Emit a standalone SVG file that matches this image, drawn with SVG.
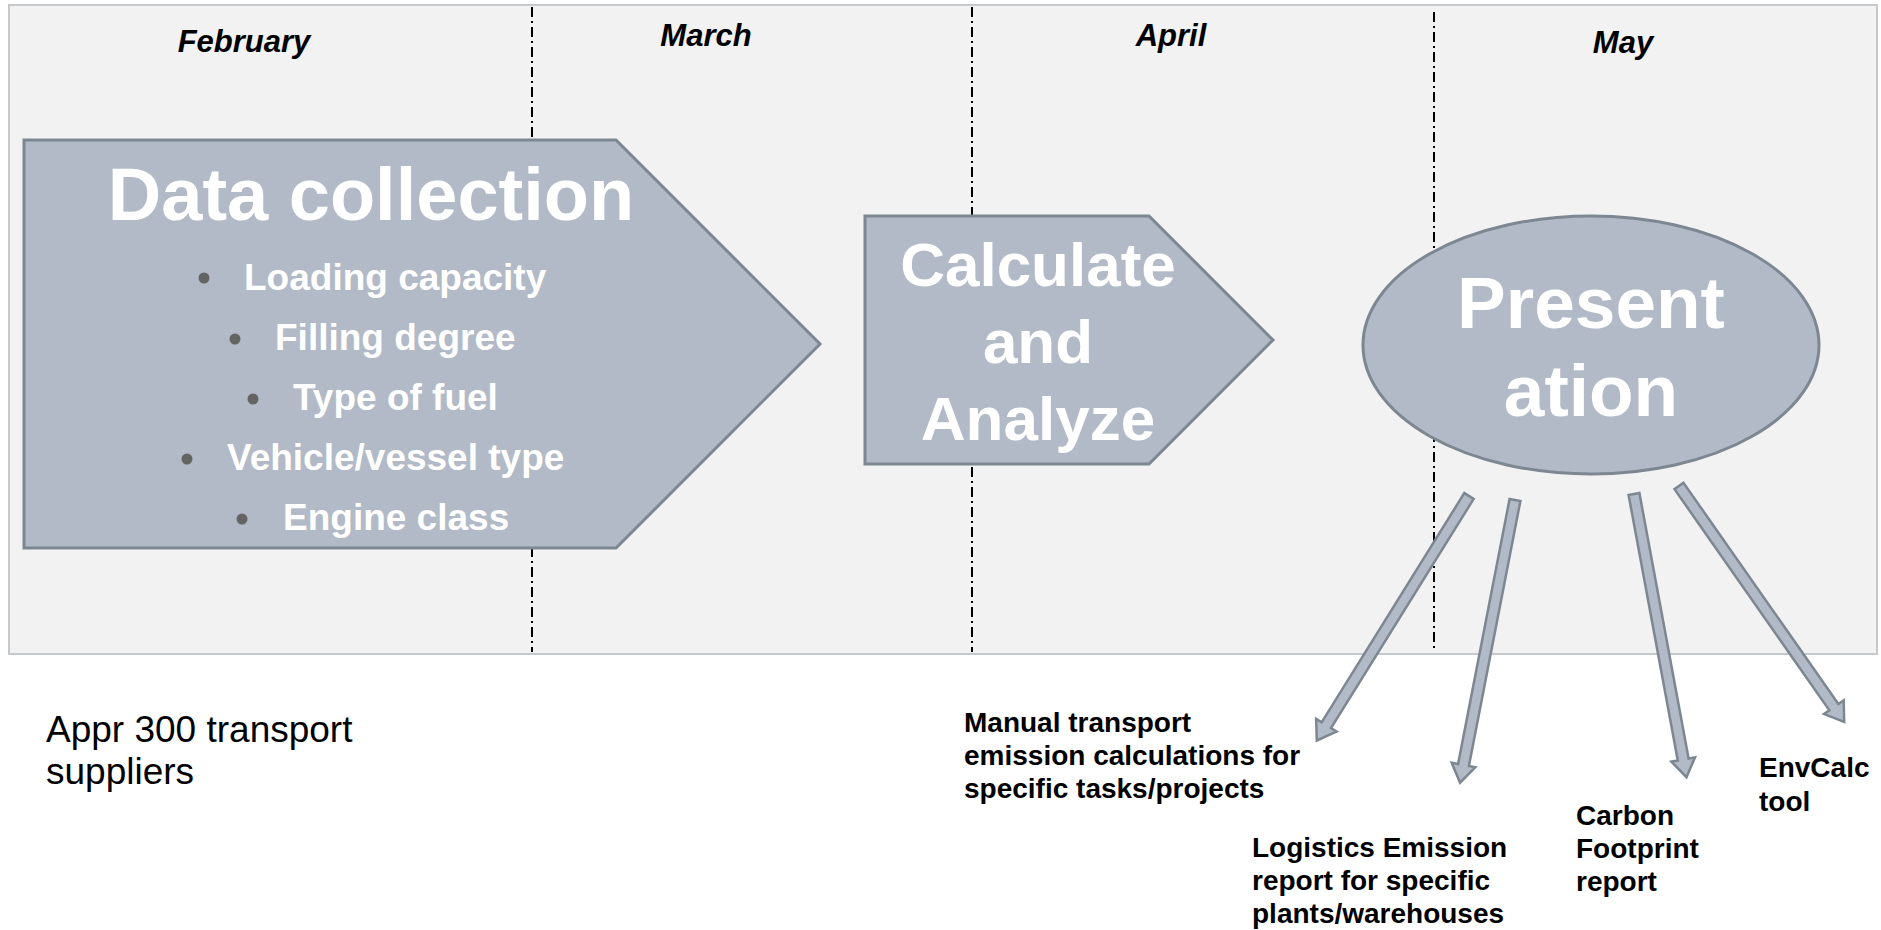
<svg xmlns="http://www.w3.org/2000/svg" width="1881" height="930" viewBox="0 0 1881 930">
  <style>
    .month { font-family: "Liberation Sans", Arial, sans-serif; font-weight: bold; font-style: italic; font-size: 31px; fill: #000; text-anchor: middle; }
    .shape { fill: #b1bac6; stroke: #7d8792; stroke-width: 3; }
    .big { font-family: "Liberation Sans", Arial, sans-serif; font-weight: bold; fill: #fff; text-anchor: middle; }
    .item { font-family: "Liberation Sans", Arial, sans-serif; font-weight: bold; font-size: 37px; fill: #fff; }
    .dot { fill: #646464; }
    .out { font-family: "Liberation Sans", Arial, sans-serif; font-weight: bold; font-size: 28px; fill: #000; }
    .note { font-family: "Liberation Sans", Arial, sans-serif; font-size: 37px; fill: #000; }
    .divider { stroke: #000; stroke-width: 2; stroke-dasharray: 10 4 2 4; fill: none; }
    .flow { fill: #b1bac6; stroke: #7d8792; stroke-width: 2.5; stroke-linejoin: miter; }
  </style>
  <defs>
    <!-- thin block arrow pointing along +x, tail at origin -->
    <polygon id="blockArrow" points="0,-5.5 270,-5.5 270,-12 288,0 270,12 270,5.5 0,5.5"/>
  </defs>

  <rect width="1881" height="930" fill="#fff"/>

  <!-- timeline panel -->
  <g id="timeline">
    <rect x="9" y="5" width="1868" height="649" fill="#f2f2f2" stroke="#c6c9cc" stroke-width="2"/>
    <line class="divider" x1="532" y1="7" x2="532" y2="652"/>
    <line class="divider" x1="972" y1="7" x2="972" y2="652"/>
    <line class="divider" x1="1434" y1="12" x2="1434" y2="650"/>
    <text class="month" x="244" y="52">February</text>
    <text class="month" x="706" y="46">March</text>
    <text class="month" x="1171" y="46">April</text>
    <text class="month" x="1623" y="53">May</text>
  </g>

  <!-- step 1 -->
  <g id="data-collection">
    <polygon class="shape" points="24,140 616,140 820,344 616,548 24,548"/>
    <text class="big" x="371" y="220" font-size="74">Data collection</text>
    <circle class="dot" cx="204" cy="278" r="5.5"/>
    <text class="item" x="244" y="290">Loading capacity</text>
    <circle class="dot" cx="235" cy="339" r="5.5"/>
    <text class="item" x="275" y="350">Filling degree</text>
    <circle class="dot" cx="253" cy="399" r="5.5"/>
    <text class="item" x="293" y="410">Type of fuel</text>
    <circle class="dot" cx="187" cy="459" r="5.5"/>
    <text class="item" x="227" y="470">Vehicle/vessel type</text>
    <circle class="dot" cx="242" cy="519" r="5.5"/>
    <text class="item" x="283" y="530">Engine class</text>
  </g>

  <!-- step 2 -->
  <g id="calculate-analyze">
    <polygon class="shape" points="865,216 1149,216 1273,340 1149,464 865,464"/>
    <text class="big" font-size="62" x="1038" y="286">Calculate</text>
    <text class="big" font-size="62" x="1038" y="363">and</text>
    <text class="big" font-size="62" x="1038" y="440">Analyze</text>
  </g>

  <!-- step 3 -->
  <g id="presentation">
    <ellipse class="shape" cx="1591" cy="345" rx="228" ry="129"/>
    <text class="big" font-size="73" x="1591" y="328">Present</text>
    <text class="big" font-size="73" x="1591" y="416">ation</text>
  </g>

  <!-- outputs of the presentation step -->
  <g id="connectors">
    <use href="#blockArrow" class="flow" transform="translate(1469,496) rotate(121.9)"/>
    <use href="#blockArrow" class="flow" transform="translate(1515,500) rotate(101)"/>
    <use href="#blockArrow" class="flow" transform="translate(1634,494) rotate(79.5)"/>
    <use href="#blockArrow" class="flow" transform="translate(1679,486) rotate(55)"/>
  </g>

  <g id="suppliers-note">
    <text class="note" x="46" y="742">Appr 300 transport</text>
    <text class="note" x="46" y="784">suppliers</text>
  </g>

  <g id="manual-calculations">
    <text class="out" x="964" y="732">Manual transport</text>
    <text class="out" x="964" y="765">emission calculations for</text>
    <text class="out" x="964" y="798">specific tasks/projects</text>
  </g>

  <g id="logistics-report">
    <text class="out" x="1252" y="857">Logistics Emission</text>
    <text class="out" x="1252" y="890">report for specific</text>
    <text class="out" x="1252" y="923">plants/warehouses</text>
  </g>

  <g id="carbon-footprint">
    <text class="out" x="1576" y="825">Carbon</text>
    <text class="out" x="1576" y="858">Footprint</text>
    <text class="out" x="1576" y="891">report</text>
  </g>

  <g id="envcalc">
    <text class="out" x="1759" y="777">EnvCalc</text>
    <text class="out" x="1759" y="811">tool</text>
  </g>
</svg>
